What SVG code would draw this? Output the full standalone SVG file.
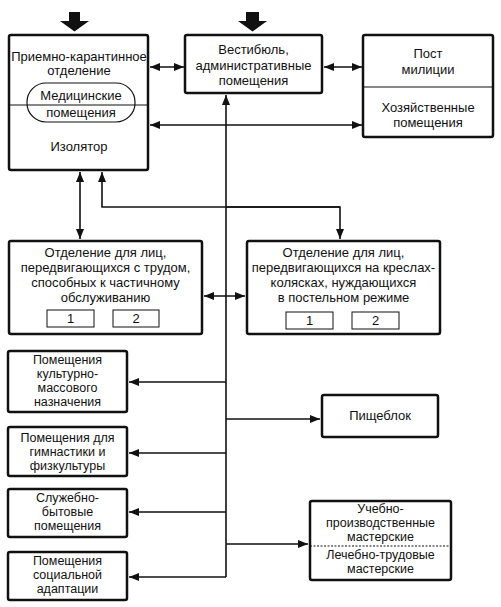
<svg xmlns="http://www.w3.org/2000/svg" width="501" height="607" viewBox="0 0 501 607">
<defs>
<marker id="ah" viewBox="0 0 10 8" refX="10" refY="4" markerWidth="10" markerHeight="8" markerUnits="userSpaceOnUse" orient="auto-start-reverse">
<path d="M0,0 L10,4 L0,8 Z" fill="#111"/>
</marker>
</defs>
<style>
.box{fill:#fff;stroke:#111;stroke-width:2.5}
.sm{fill:#fff;stroke:#111;stroke-width:1}
.div{stroke:#111;stroke-width:1.2;fill:none}
.ln{stroke:#111;stroke-width:1.6;fill:none}
text{font-family:"Liberation Sans",Arial,sans-serif;font-size:13px;fill:#111;text-anchor:middle}
.s text{font-size:12.5px}
</style>
<rect width="501" height="607" fill="#fff"/>

<g id="entry-arrows">
<path d="M69,12 H80 V21 H89 L74.5,31.5 L60,21 H69 Z" fill="#111"/>
<path d="M246,12 H259 V21 H267 L252.5,31.5 L238,21 H246 Z" fill="#111"/>
</g>

<g id="connectors">
<line class="ln" x1="150" y1="67" x2="184" y2="67" marker-start="url(#ah)" marker-end="url(#ah)"/>
<line class="ln" x1="324" y1="67" x2="362" y2="67" marker-start="url(#ah)" marker-end="url(#ah)"/>
<line class="ln" x1="150" y1="125" x2="362" y2="125" marker-start="url(#ah)" marker-end="url(#ah)"/>
<line class="ln" x1="226" y1="577" x2="226" y2="95" marker-end="url(#ah)"/>
<line class="ln" x1="80" y1="172" x2="80" y2="239" marker-start="url(#ah)" marker-end="url(#ah)"/>
<polyline class="ln" points="340,207 102,207 102,172" marker-end="url(#ah)"/>
<polyline class="ln" points="226,207 340,207 340,239" marker-end="url(#ah)"/>
<line class="ln" x1="204" y1="296" x2="245" y2="296" marker-start="url(#ah)" marker-end="url(#ah)"/>
<line class="ln" x1="226" y1="382" x2="129" y2="382" marker-end="url(#ah)"/>
<line class="ln" x1="226" y1="419" x2="320" y2="419" marker-end="url(#ah)"/>
<line class="ln" x1="226" y1="453" x2="129" y2="453" marker-end="url(#ah)"/>
<line class="ln" x1="226" y1="512" x2="129" y2="512" marker-end="url(#ah)"/>
<line class="ln" x1="226" y1="544" x2="308" y2="544" marker-end="url(#ah)"/>
<line class="ln" x1="226" y1="577" x2="129" y2="577" marker-end="url(#ah)"/>
</g>

<g id="reception">
<rect class="box" x="9" y="35" width="139" height="135" rx="2"/>
<line class="div" x1="9" y1="105" x2="148" y2="105"/>
<rect x="27" y="83" width="108" height="39" rx="19" fill="none" stroke="#111" stroke-width="1.2"/>
<text x="79" y="61">Приемно-карантинное</text>
<text x="79" y="75">отделение</text>
<text x="81" y="100">Медицинские</text>
<text x="81" y="117">помещения</text>
<text x="79" y="151">Изолятор</text>
</g>

<g id="vestibule">
<rect class="box" x="185" y="35" width="137" height="58" rx="2"/>
<text x="253.5" y="54">Вестибюль,</text>
<text x="253.5" y="70">административные</text>
<text x="253.5" y="85">помещения</text>
</g>

<g id="police">
<rect class="box" x="363" y="35" width="130" height="102" rx="2"/>
<line class="div" x1="363" y1="87" x2="493" y2="87"/>
<text x="428" y="58">Пост</text>
<text x="428" y="74">милиции</text>
<text x="428" y="112">Хозяйственные</text>
<text x="428" y="127">помещения</text>
</g>

<g id="dept-left">
<rect class="box" x="9" y="241" width="193" height="93" rx="2"/>
<text x="105.5" y="257">Отделение для лиц,</text>
<text x="105.5" y="272">передвигающихся с трудом,</text>
<text x="105.5" y="287">способных к частичному</text>
<text x="105.5" y="302">обслуживанию</text>
<rect class="sm" x="47" y="310" width="47" height="17"/>
<text x="70.5" y="323">1</text>
<rect class="sm" x="113" y="310" width="46" height="17"/>
<text x="136" y="323">2</text>
</g>

<g id="dept-right">
<rect class="box" x="247" y="241" width="193" height="93" rx="2"/>
<text x="343.5" y="257">Отделение для лиц,</text>
<text x="343.5" y="272">передвигающихся на креслах-</text>
<text x="343.5" y="287">колясках, нуждающихся</text>
<text x="343.5" y="302">в постельном режиме</text>
<rect class="sm" x="286" y="312" width="47" height="17"/>
<text x="309.5" y="325">1</text>
<rect class="sm" x="352" y="312" width="47" height="17"/>
<text x="375.5" y="325">2</text>
</g>

<g id="culture" class="s">
<rect class="box" x="8" y="351" width="119" height="61" rx="2"/>
<text x="67.5" y="364">Помещения</text>
<text x="67.5" y="378">культурно-</text>
<text x="67.5" y="392">массового</text>
<text x="67.5" y="406">назначения</text>
</g>

<g id="gym" class="s">
<rect class="box" x="8" y="427" width="119" height="49" rx="2"/>
<text x="67.5" y="442">Помещения для</text>
<text x="67.5" y="456">гимнастики и</text>
<text x="67.5" y="470">физкультуры</text>
</g>

<g id="service" class="s">
<rect class="box" x="8" y="489" width="119" height="48" rx="2"/>
<text x="67.5" y="502">Служебно-</text>
<text x="67.5" y="516">бытовые</text>
<text x="67.5" y="530">помещения</text>
</g>

<g id="social" class="s">
<rect class="box" x="8" y="552" width="119" height="48" rx="2"/>
<text x="67.5" y="565">Помещения</text>
<text x="67.5" y="579">социальной</text>
<text x="67.5" y="593">адаптации</text>
</g>

<g id="kitchen">
<rect class="box" x="322" y="395" width="116" height="42" rx="2"/>
<text x="380" y="420">Пищеблок</text>
</g>

<g id="workshops" class="s">
<rect class="box" x="310" y="501" width="141" height="79" rx="2"/>
<line x1="310" y1="546" x2="451" y2="546" stroke="#111" stroke-width="1" stroke-dasharray="2,1.5"/>
<text x="380.5" y="513">Учебно-</text>
<text x="380.5" y="527">производственные</text>
<text x="380.5" y="541">мастерские</text>
<text x="380.5" y="559">Лечебно-трудовые</text>
<text x="380.5" y="573">мастерские</text>
</g>
</svg>
